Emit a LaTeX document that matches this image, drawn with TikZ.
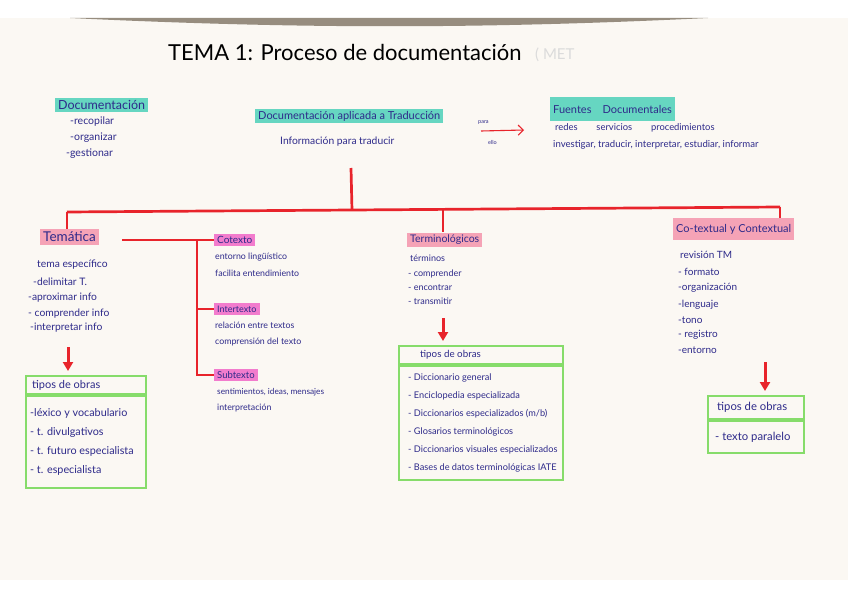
\documentclass[tikz,border=0pt]{standalone}
\usepackage{fontspec}
\setmainfont{Lato}
\usetikzlibrary{arrows.meta}
\definecolor{paper}{HTML}{FBF8F3}
\definecolor{shadowc}{HTML}{978D7F}
\definecolor{ink}{HTML}{2E2A8A}
\definecolor{hlteal}{HTML}{66D6C1}
\definecolor{hlpink}{HTML}{F5A3B6}
\definecolor{hlmag}{HTML}{F27CCD}
\definecolor{redln}{HTML}{E8242B}
\definecolor{grn}{HTML}{86DC6A}
\begin{document}
\begin{tikzpicture}[x=1pt,y=-1pt,
  txt/.style={text=ink, font=\fontsize{9}{11}\selectfont, anchor=west, inner sep=0pt},
  sz/.style={font=\fontsize{#1}{#1}\selectfont},
  hl/.style={anchor=west, text=ink, inner xsep=3pt, inner ysep=2.5pt},
  redl/.style={draw=redln, line width=2.7pt},
  redthin/.style={draw=redln, line width=1.4pt},
  bigarrow/.style={draw=redln, line width=3pt, -{Triangle[length=9pt,width=10pt]}, shorten >=4pt},
  gbox/.style={draw=grn, line width=2.2pt, anchor=north west, inner sep=0pt},
  gtxt/.style={text=ink, anchor=west, align=left, inner sep=0pt}]

\useasboundingbox (0,0) rectangle (848,599);
\fill[white] (0,0) rectangle (848,599);
\fill[paper] (0,18) rectangle (848,580);
\fill[shadowc] (70,18) .. controls (300,29) and (480,29) .. (708,18) -- cycle;

% title
\node[anchor=west, inner sep=0pt, font=\fontsize{22}{24}\selectfont, text=black] (title) at (168,52) {TEMA 1: Proceso de documentación};
\node[anchor=west, inner sep=0pt, font=\fontsize{15}{17}\selectfont, text=black!14] (ghost) at (535,55) {( MET};

% Documentacion
\node[hl, fill=hlteal, font=\fontsize{12.5}{14}\selectfont] (doc) at (55,105) {Documentación};
\node[txt, sz=10.5] (d1) at (70,122) {-recopilar};
\node[txt, sz=10.5] (d2) at (70,138) {-organizar};
\node[txt, sz=10.5] (d3) at (66,154) {-gestionar};

% Documentacion aplicada
\node[hl, fill=hlteal, font=\fontsize{11}{12}\selectfont] (dat) at (255,116) {Documentación aplicada a Traducción};
\node[txt, sz=10.3] (info) at (280,142) {Información para traducir};

% para ello arrow
\coordinate (a1) at (481,131);
\coordinate (a2) at (524,130);
\draw[draw=redln, line width=1.1pt, -{Straight Barb[length=5pt,width=10pt]}] (a1) -- (a2);
\node[txt, sz=5.5] (para) at (478,123) {para};
\node[txt, sz=5.5] (ello) at (488,142) {ello};

% Fuentes documentales
\node[hl, fill=hlteal, font=\fontsize{11}{13}\selectfont, minimum height=24pt] (fd) at (550,109) {Fuentes\quad Documentales};
\node[txt, sz=9.4] (f1) at (555,128) {redes\qquad servicios\qquad procedimientos};
\node[txt, sz=9.6] (f2) at (553,145) {investigar, traducir, interpretar, estudiar, informar};

% main headings
\node[hl, fill=hlpink, font=\fontsize{13.5}{15}\selectfont] (tem) at (40,237) {Temática};
\node[hl, fill=hlpink, font=\fontsize{10.5}{12}\selectfont] (ter) at (407,240) {Terminológicos};
\node[hl, fill=hlpink, font=\fontsize{11}{12}\selectfont, minimum height=22pt] (ctx) at (673,229) {Co-textual y Contextual};

% red tree
\coordinate (top) at (351,168);
\coordinate (jl) at (67,212);
\coordinate (jm) at (352,210.4);
\coordinate (jt) at (443,209.4);
\coordinate (jr) at (780,207);
\draw[redl] (top) -- (jm);
\draw[redl] (jl) -- (jr);
\draw[redl] (jl) -- (jl |- tem.north);
\draw[redl] (jt) -- (jt |- ter.north);
\draw[redl] (jr) -- (jr |- ctx.north);

% Tematica sub-branches
\node[hl, fill=hlmag, font=\fontsize{10}{12}\selectfont] (cotx) at (214,240) {Cotexto};
\node[hl, fill=hlmag, font=\fontsize{9}{11}\selectfont] (intt) at (214,309) {Intertexto};
\node[hl, fill=hlmag, font=\fontsize{9.5}{11}\selectfont] (subt) at (214,375) {Subtexto};
\coordinate (tr) at (122,240);
\coordinate (sp) at (197,240);
\draw[redthin] (tr) -- (cotx.west);
\draw[redthin] (sp) |- (subt.west);
\draw[redthin] (sp |- intt.west) -- (intt.west);

\node[txt, sz=8.8] (c1) at (215,257) {entorno lingüístico};
\node[txt, sz=8.8] (c2) at (215,273) {facilita entendimiento};
\node[txt, sz=8.8] (i1) at (215,325) {relación entre textos};
\node[txt, sz=8.8] (i2) at (215,342) {comprensión del texto};
\node[txt, sz=8.3] (s1) at (217,392) {sentimientos, ideas, mensajes};
\node[txt, sz=8.8] (s2) at (217,408) {interpretación};

% Tematica items
\node[txt, sz=10.3] (t0) at (37,265) {tema específico};
\node[txt, sz=10.3] (t1) at (33,282) {-delimitar T.};
\node[txt, sz=10.3] (t2) at (28,298) {-aproximar info};
\node[txt, sz=10.3] (t3) at (28,314) {- comprender info};
\node[txt, sz=10.3] (t4) at (30,328) {-interpretar info};

% Terminologicos items
\node[txt, sz=9] (r0) at (410,258) {términos};
\node[txt, sz=9] (r1) at (408,274) {- comprender};
\node[txt, sz=9] (r2) at (408,288) {- encontrar};
\node[txt, sz=9] (r3) at (408,301) {- transmitir};

% Co-textual items
\node[txt, sz=10] (x0) at (680,255) {revisión TM};
\node[txt, sz=10] (x1) at (678,272) {- formato};
\node[txt, sz=10] (x2) at (678,288) {-organización};
\node[txt, sz=10] (x3) at (678,305) {-lenguaje};
\node[txt, sz=10] (x4) at (678,320) {-tono};
\node[txt, sz=10] (x5) at (678,335) {- registro};
\node[txt, sz=10] (x6) at (678,350) {-entorno};

% green box 1
\node[gbox, minimum width=120pt, minimum height=18pt] (h1) at (25,375) {};
\node[gbox, minimum width=120pt, minimum height=92pt] (b1) at (h1.south west) {};
\node[txt, sz=11] (h1t) at ([xshift=7pt]h1.west) {tipos de obras};
\node[gtxt, font=\fontsize{10.8}{19}\selectfont] (b1t) at ([xshift=5pt]b1.west) {-léxico y vocabulario\\- t. divulgativos\\- t. futuro especialista\\- t. especialista};

% green box 2
\node[gbox, minimum width=164pt, minimum height=18pt] (h2) at (398,345) {};
\node[gbox, minimum width=164pt, minimum height=114pt] (b2) at (h2.south west) {};
\node[txt, sz=9.8] (h2t) at ([xshift=22pt]h2.west) {tipos de obras};
\node[gtxt, font=\fontsize{9.2}{18}\selectfont] (b2t) at ([xshift=10pt]b2.west) {- Diccionario general\\- Enciclopedia especializada\\- Diccionarios especializados (m/b)\\- Glosarios terminológicos\\- Diccionarios visuales especializados\\- Bases de datos terminológicas IATE};

% green box 3
\node[gbox, minimum width=96pt, minimum height=23pt] (h3) at (707,395) {};
\node[gbox, minimum width=96pt, minimum height=32pt] (b3) at (h3.south west) {};
\node[txt, sz=11.3] (h3t) at ([xshift=10pt]h3.west) {tipos de obras};
\node[txt, sz=11.3] (b3t) at ([xshift=8pt]b3.west) {- texto paralelo};

% big arrows
\coordinate (ar1) at (68,347);
\coordinate (ar2) at (443,318);
\coordinate (ar3) at (765,362);
\draw[bigarrow] (ar1) -- (ar1 |- h1.north);
\draw[bigarrow] (ar2) -- (ar2 |- h2.north);
\draw[bigarrow] (ar3) -- (ar3 |- h3.north);
\end{tikzpicture}
\end{document}
